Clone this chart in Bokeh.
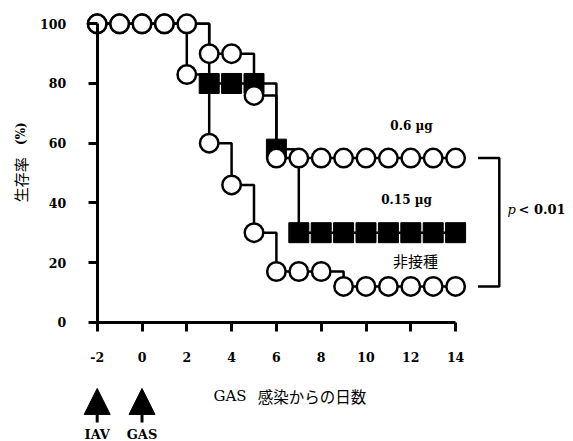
from bokeh.plotting import figure
from bokeh.models import Range1d, LinearAxis, FixedTicker, Label, Arrow, NormalHead
from bokeh.embed import file_html
from bokeh.resources import INLINE

# Survival (%) by day after GAS infection
days = list(range(-2, 15))
survival_06 = [100, 100, 100, 100, 100, 90, 90, 76, 55, 55, 55, 55, 55, 55, 55, 55, 55]
survival_015 = [100, 100, 100, 100, 100, 80, 80, 80, 58, 30, 30, 30, 30, 30, 30, 30, 30]
survival_ctrl = [100, 100, 100, 100, 83, 60, 46, 30, 17, 17, 17, 12, 12, 12, 12, 12, 12]

x_ticks = [-2, 0, 2, 4, 6, 8, 10, 12, 14]
y_ticks = [0, 20, 40, 60, 80, 100]

# Inoculation events shown as arrows under the time axis
event_days = [-2, 0]
event_names = ["IAV", "GAS"]

SERIF = "DejaVu Serif"
CJK = "Noto Sans CJK JP"
INK = "black"

p = figure(width=573, height=441,
           x_range=Range1d(-6.317, 19.263), y_range=Range1d(-39.98, 107.81),
           x_axis_type=None, y_axis_type=None,
           output_backend="svg", toolbar_location=None, min_border=0)
p.outline_line_color = None
p.background_fill_color = "white"

xaxis = LinearAxis(fixed_location=0, bounds=(-2.3, 14), ticker=FixedTicker(ticks=x_ticks))
yaxis = LinearAxis(fixed_location=-2, bounds=(0, 100), ticker=FixedTicker(ticks=y_ticks))
for ax in (xaxis, yaxis):
    ax.axis_line_width = 3
    ax.major_tick_line_width = 3
    ax.major_tick_out = 9
    ax.major_tick_in = 0
    ax.minor_tick_line_color = None
    ax.major_label_text_font = SERIF
    ax.major_label_text_font_style = "bold"
    ax.major_label_text_font_size = "12.5px"
    ax.major_label_text_color = INK
# plain hyphen for negative day labels
xaxis.major_label_overrides = {t: f"{t}" for t in x_ticks if t < 0}
xaxis.major_label_standoff = 21
yaxis.major_label_standoff = 22
p.add_layout(xaxis, "below")
p.add_layout(yaxis, "left")

# Step curves (value held until the next day)
for vals in (survival_ctrl, survival_015, survival_06):
    p.step(days, vals, mode="after", line_width=2.5, line_color=INK)

# 0.15 ug group: filled squares once it leaves the shared 100% start
sq_days = [d for d, v in zip(days, survival_015) if v < 100]
sq_vals = [v for v in survival_015 if v < 100]
p.scatter(sq_days, sq_vals, marker="square", size=20,
          fill_color=INK, line_color=INK)

# 0.6 ug and non-inoculated groups: open circles
for vals in (survival_06, survival_ctrl):
    p.scatter(days, vals, marker="circle", size=18.5,
              fill_color="white", line_color=INK, line_width=2.5)


def label(**kw):
    kw.setdefault("text_color", INK)
    kw.setdefault("text_baseline", "middle")
    p.add_layout(Label(**kw))


# Significance bracket between 0.6 ug and non-inoculated groups
bx0, bx1 = 15.0, 15.95
p.line([bx0, bx1, bx1, bx0],
       [survival_06[-1], survival_06[-1], survival_ctrl[-1], survival_ctrl[-1]],
       line_width=2.5, line_color=INK)
label(x=16.32, y=37.8, text="p", text_font=SERIF, text_font_style="italic",
      text_font_size="13px", text_align="left")
label(x=16.32, y=37.8, x_offset=11, text="< 0.01", text_font=SERIF,
      text_font_style="bold", text_font_size="13px", text_align="left")

# Group labels
label(x=12.03, y=65.9, text="0.6 µg", text_font=SERIF, text_font_style="bold",
      text_font_size="12px", text_align="center")
label(x=11.81, y=40.8, text="0.15 µg", text_font=SERIF, text_font_style="bold",
      text_font_size="12px", text_align="center")
label(x=12.21, y=20.7, text="非接種", text_font=CJK,
      text_font_size="15px", text_align="center")

# Axis titles
label(x=3.19, y=-24.6, text="GAS", text_font=SERIF, text_font_size="15px", text_align="left")
label(x=5.17, y=-24.6, text="感染からの日数", text_font=CJK, text_font_size="15.5px",
      text_align="left")
label(x=-5.42, y=47.7, text="生存率", text_font=CJK, angle=90, angle_units="deg",
      text_font_size="15px", text_align="center")
label(x=-5.42, y=63.2, text="(%)", text_font=SERIF, text_font_style="bold", angle=90,
      angle_units="deg", text_font_size="12px", text_align="center")

# Event arrows with their labels
for d, name in zip(event_days, event_names):
    p.add_layout(Arrow(end=NormalHead(size=26, fill_color=INK, line_color=INK),
                       x_start=d, y_start=-33.6, x_end=d, y_end=-22.2,
                       line_width=3, line_color=INK))
    label(x=d, y=-37.5, text=name, text_font=SERIF, text_font_style="bold",
          text_font_size="13px", text_align="center")

open("out.html", "w").write(file_html(p, INLINE))
